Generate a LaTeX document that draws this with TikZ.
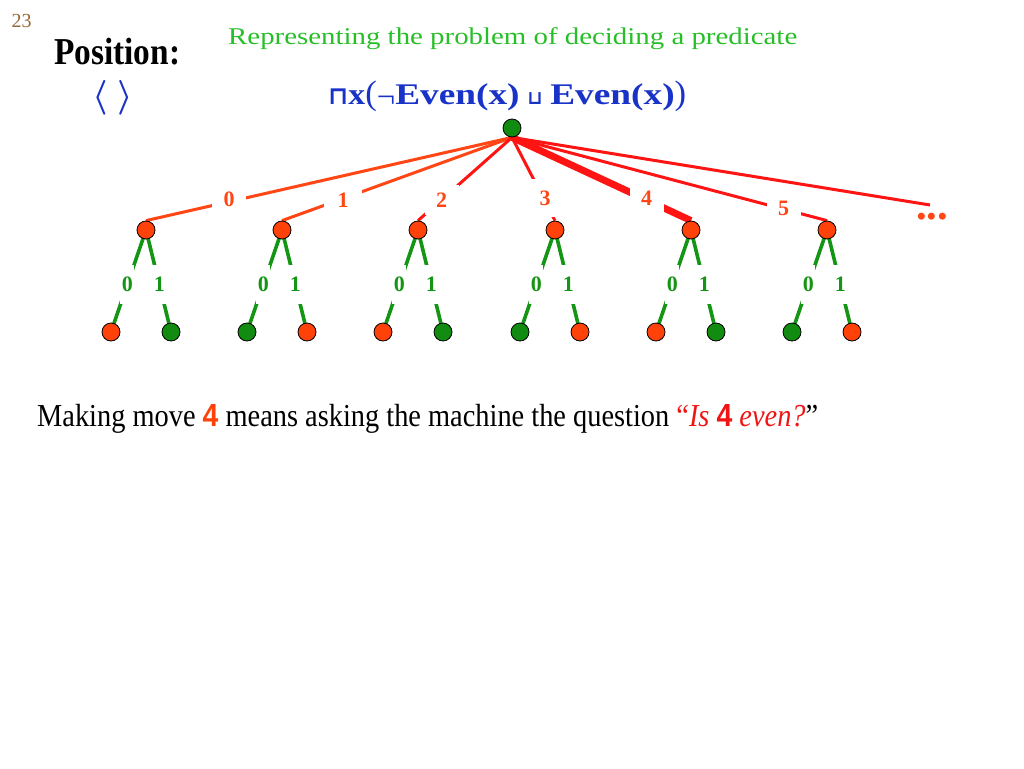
\documentclass[tikz,border=0pt]{standalone}
\usepackage{graphicx}
\usepackage{fontspec}
\setmainfont{Liberation Serif}
\setsansfont{Liberation Sans}
\newfontfamily\dejavu{DejaVu Sans}
\usetikzlibrary{backgrounds}
\definecolor{nred}{RGB}{255,65,10}
\definecolor{lred}{RGB}{255,20,20}
\definecolor{ored}{RGB}{255,70,20}
\definecolor{ngreen}{RGB}{17,140,17}
\definecolor{lgreen}{RGB}{20,150,20}
\definecolor{tgreen}{RGB}{40,190,40}
\definecolor{fblue}{RGB}{25,50,200}
\definecolor{brownnum}{RGB}{150,105,60}
\definecolor{qred}{RGB}{240,20,20}
\newcommand\posbrackets{\resizebox{40pt}{!}{\boldmath$\langle\mkern4mu\rangle$}}
\newcommand\wideword[1]{\scalebox{1.22}[1]{#1}}
\newcommand\bigparen[1]{{\fontsize{34}{34}\selectfont\mdseries #1}}
\begin{document}
\begin{tikzpicture}[x=1pt,y=-1pt,
  circdot/.style={circle,draw=black,line width=0.8pt,fill=#1,minimum size=18pt,inner sep=0pt},
  redge/.style={draw=lred,line width=3pt},
  oedge/.style={draw=ored,line width=3pt},
  gedge/.style={draw=lgreen,line width=3.6pt},
  rlab/.style={text=ored,fill=white,font=\fontsize{22}{22}\selectfont\bfseries,inner sep=0pt,minimum width=34pt,minimum height=34pt},
  glab/.style={text=lgreen,fill=white,font=\fontsize{22}{22}\selectfont\bfseries,inner sep=0pt,minimum width=14pt,minimum height=39pt},
]
\useasboundingbox (0,0) rectangle (1024,768);

% texts
\node[anchor=base west,inner sep=0pt,text=brownnum,font=\fontsize{20}{20}\selectfont] (pagenum) at (11.5,27.7) {23};
\node[anchor=base west,inner sep=0pt,font=\bfseries] (poslabel) at (54,64.3) {\resizebox{126pt}{\height}{\fontsize{38}{38}\selectfont Position:}};
\node[inner sep=0pt,text=fblue] (posval) at (113,97.5) {\posbrackets};
\node[anchor=base west,inner sep=0pt,text=tgreen] (title) at (228,44.3) {\resizebox{569pt}{\height}{\fontsize{24}{24}\selectfont Representing the problem of deciding a predicate}};
\node[anchor=base west,inner sep=0pt,text=fblue] (formula) at (328,104) {\resizebox{358pt}{\height}{\fontsize{30}{30}\selectfont\bfseries {\dejavu\bfseries\fontsize{25}{25}\selectfont ⊓}\scalebox{1.1}[1]{x}\bigparen{(}\raisebox{-3pt}{\fontsize{32}{32}\selectfont\mdseries ¬}\wideword{Even(x)} {\dejavu\fontsize{19}{19}\selectfont ⊔} \wideword{Even(x)}\bigparen{)}}};
\node[anchor=base west,inner sep=0pt] (caption) at (37,426) {\resizebox{781pt}{\height}{\fontsize{32}{32}\selectfont Making move {\sffamily\bfseries\color{nred}4} means asking the machine the question {\color{qred}“\textit{Is} {\sffamily\bfseries 4} \textit{even?}}”}};

% tree nodes
\node[circdot=ngreen] (r) at (512,128) {};
\node[circdot=nred] (a0) at (146,230) {};
\node[circdot=nred] (a1) at (282,230) {};
\node[circdot=nred] (a2) at (418,230) {};
\node[circdot=nred] (a3) at (555,230) {};
\node[circdot=nred] (a4) at (691,230) {};
\node[circdot=nred] (a5) at (827,230) {};
\coordinate (dd) at (930,205);
\node[inner sep=0pt,text=ored] (dots) at (932,217) {\resizebox{32pt}{!}{\bfseries ...}};

\foreach \i/\x/\lc/\rc in {0/146/nred/ngreen,1/282/ngreen/nred,2/418/nred/ngreen,3/555/ngreen/nred,4/691/nred/ngreen,5/827/ngreen/nred}{
  \node[circdot=\lc] (b\i l) at (\x-35,332) {};
  \node[circdot=\rc] (b\i r) at (\x+25,332) {};
}

\begin{scope}[on background layer]
  \draw[oedge] (r.south) -- (a0.north);
  \draw[oedge] (r.south) -- (a1.north);
  \draw[redge] (r.south) -- (a2.north);
  \draw[redge] (r.south) -- (a3.north);
  \draw[redge,line width=7pt] (r.south) -- (a4.north);
  \draw[redge] (r.south) -- (a5.north);
  \draw[redge] (r.south) -- (dd);
  \foreach \i in {0,...,5}{
    \draw[gedge] (a\i.center) -- node[glab,pos=0.535] {0} (b\i l.center);
    \draw[gedge] (a\i.center) -- node[glab,pos=0.535] {1} (b\i r.center);
  }
\end{scope}

% labels of the moves
\node[rlab] (m0) at (229,199) {0};
\node[rlab,minimum width=38pt] (m1) at (343,200) {1};
\node[rlab,minimum height=30pt] (m2) at (441.7,200) {2};
\node[rlab,minimum height=38pt] (m3) at (545,198) {3};
\node[rlab] (m4) at (646.7,198.3) {4};
\node[rlab] (m5) at (783.5,208) {5};
\end{tikzpicture}
\end{document}
